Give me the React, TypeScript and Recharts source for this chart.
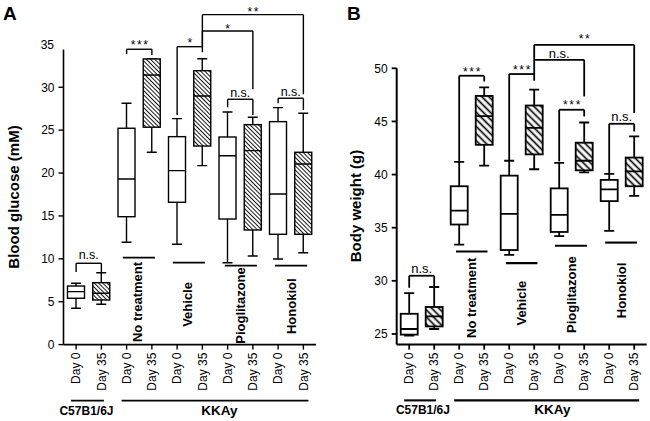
import React from 'react';
import { ComposedChart, Bar, XAxis, YAxis, ReferenceLine, ReferenceDot } from 'recharts';

const FONT = 'Arial, "Liberation Sans", Helvetica, sans-serif';

// ---------- categories / labels ----------
const tickLabels = ['Day 0', 'Day 35', 'Day 0', 'Day 35', 'Day 0', 'Day 35', 'Day 0', 'Day 35', 'Day 0', 'Day 35'];
const groupLabels = ['No treatment', 'Vehicle', 'Pioglitazone', 'Honokiol'];
const strainLabels = ['C57B1/6J', 'KKAy'];

// ---------- Panel A: blood glucose (mM) ----------
const glucoseMin = [4.23, 4.7, 11.93, 22.42, 11.69, 20.86, 9.55, 10.33, 9.98, 10.71];
const glucoseQ1 = [5.4, 5.2, 14.91, 25.34, 16.59, 23.15, 14.64, 13.36, 12.86, 12.86];
const glucoseMedian = [6.17, 5.98, 19.31, 31.43, 20.28, 28.98, 22.02, 22.61, 17.56, 21.06];
const glucoseQ3 = [6.83, 7.22, 25.22, 33.3, 24.24, 31.93, 24.2, 25.64, 25.99, 22.42];
const glucoseMax = [7.15, 8.38, 28.13, 33.3, 26.34, 33.33, 27.12, 26.5, 27.62, 26.97];
const glucoseTicks = [0, 5, 10, 15, 20, 25, 30];

// ---------- Panel B: body weight (g) ----------
const weightMin = [24.84, 25.47, 33.4, 40.85, 32.45, 40.5, 34.2, 40.2, 34.7, 38.0];
const weightQ1 = [24.94, 25.71, 35.3, 42.8, 32.9, 41.9, 34.6, 40.4, 37.5, 38.9];
const weightMedian = [25.47, 26.65, 36.6, 45.5, 36.3, 44.4, 36.2, 41.3, 38.6, 40.3];
const weightQ3 = [26.9, 27.54, 38.9, 47.4, 39.9, 46.5, 38.7, 43.0, 39.5, 41.6];
const weightMax = [28.85, 29.42, 41.2, 48.2, 41.3, 48.0, 41.1, 44.9, 40.07, 43.6];
const weightTicks = [25, 30, 35, 40, 45, 50];

// ---------- significance annotations (data units) ----------
type Bracket = { x1: number; x2: number; top: number; left: number; right: number };
type Note = { x: number; y: number; text: string };
type Seg = { x1: number; x2: number; y: number };
type Place = { x: number; y: number };

const glucoseBrackets: Bracket[] = [
  { x1: 0, x2: 1, top: 9.48, left: 8.45, right: 8.45 },
  { x1: 2, x2: 3, top: 34.43, left: 33.88, right: 33.77 },
  { x1: 4, x2: 5, top: 34.73, left: 26.77, right: 34.08 },
  { x1: 5, x2: 7, top: 36.56, left: 34.73, right: 29.77 },
  { x1: 5, x2: 9, top: 38.46, left: 34.73, right: 29.18 },
  { x1: 6, x2: 7, top: 28.6, left: 27.67, right: 26.77 },
  { x1: 8, x2: 9, top: 28.72, left: 28.13, right: 27.35 },
];
const glucoseNotes: Note[] = [
  { x: 0.5, y: 9.98, text: 'n.s.' },
  { x: 2.5, y: 34.45, text: '***' },
  { x: 4.5, y: 34.73, text: '*' },
  { x: 6, y: 36.33, text: '*' },
  { x: 7, y: 38.31, text: '**' },
  { x: 6.5, y: 28.81, text: 'n.s.' },
  { x: 8.5, y: 28.93, text: 'n.s.' },
];
const glucoseGroupLines: Seg[] = [
  { x1: 1.85, x2: 3.12, y: 10.13 },
  { x1: 3.83, x2: 5.1, y: 9.55 },
  { x1: 5.89, x2: 7.16, y: 9.2 },
  { x1: 7.88, x2: 9.15, y: 9.2 },
];
const glucoseGroupPos: Place[] = [
  { x: 2.44, y: 4.97 },
  { x: 4.42, y: 4.68 },
  { x: 6.49, y: 4.56 },
  { x: 8.51, y: 4.47 },
];
const glucoseStrainLines: Seg[] = [
  { x1: -0.2, x2: 1.1, y: -6.54 },
  { x1: 1.8, x2: 9.2, y: -6.54 },
];
const glucoseStrainPos: Place[] = [
  { x: 0.41, y: -8.15 },
  { x: 5.67, y: -8.15 },
];

const weightBrackets: Bracket[] = [
  { x1: 0, x2: 1, top: 30.48, left: 29.35, right: 29.42 },
  { x1: 2, x2: 3, top: 49.3, left: 41.24, right: 48.76 },
  { x1: 4, x2: 5, top: 49.46, left: 41.33, right: 48.83 },
  { x1: 5, x2: 7, top: 50.8, left: 49.46, right: 47.35 },
  { x1: 5, x2: 9, top: 52.21, left: 50.8, right: 45.79 },
  { x1: 6, x2: 7, top: 46.1, left: 41.24, right: 45.47 },
  { x1: 8, x2: 9, top: 44.78, left: 40.15, right: 44.06 },
];
const weightNotes: Note[] = [
  { x: 0.5, y: 30.74, text: 'n.s.' },
  { x: 2.5, y: 49.25, text: '***' },
  { x: 4.5, y: 49.45, text: '***' },
  { x: 6, y: 50.99, text: 'n.s.' },
  { x: 7, y: 52.35, text: '**' },
  { x: 6.5, y: 46.15, text: '***' },
  { x: 8.5, y: 45.02, text: 'n.s.' },
];
const weightGroupLines: Seg[] = [
  { x1: 1.87, x2: 3.13, y: 32.76 },
  { x1: 3.87, x2: 5.13, y: 31.67 },
  { x1: 5.83, x2: 7.11, y: 33.3 },
  { x1: 7.84, x2: 9.11, y: 33.6 },
];
const weightGroupPos: Place[] = [
  { x: 2.47, y: 28.4 },
  { x: 4.47, y: 27.9 },
  { x: 6.47, y: 28.7 },
  { x: 8.47, y: 29.1 },
];
const weightStrainLines: Seg[] = [
  { x1: -0.2, x2: 1.07, y: 18.75 },
  { x1: 1.8, x2: 9.2, y: 18.75 },
];
const weightStrainPos: Place[] = [
  { x: 0.55, y: 17.46 },
  { x: 5.73, y: 17.46 },
];

function buildRows(mn: number[], q1: number[], md: number[], q3: number[], mx: number[]) {
  return tickLabels.map((label, i) => ({
    idx: i,
    label,
    min: mn[i],
    q1: q1[i],
    median: md[i],
    q3: q3[i],
    max: mx[i],
    range: [mn[i], mx[i]],
    hatched: i % 2 === 1,
  }));
}

const glucoseRows = buildRows(glucoseMin, glucoseQ1, glucoseMedian, glucoseQ3, glucoseMax);
const weightRows = buildRows(weightMin, weightQ1, weightMedian, weightQ3, weightMax);

function makeBoxShape(pid: string, lw: number, gap: number, hw: number) {
  return (props: any) => {
    const { x, y, width, height, payload } = props;
    if (!payload || !Number.isFinite(y) || !Number.isFinite(height)) return <g />;
    const { min, max, q1, q3, median, hatched } = payload;
    const top = Math.min(y, y + height);
    const bot = Math.max(y, y + height);
    const py = (v: number) => (max === min ? top : top + ((bot - top) * (max - v)) / (max - min));
    const cx = x + width / 2;
    const cap = 5;
    const s = { stroke: '#000', strokeWidth: lw };
    return (
      <g>
        {hatched && (
          <defs>
            <pattern id={pid} patternUnits="userSpaceOnUse" width={gap} height={gap} patternTransform="rotate(-45)">
              <rect x={0} y={0} width={gap} height={gap} fill="#fff" />
              <line x1={gap / 2} y1={0} x2={gap / 2} y2={gap} stroke="#000" strokeWidth={hw} />
            </pattern>
          </defs>
        )}
        <line x1={cx} x2={cx} y1={py(max)} y2={py(q3)} {...s} />
        <line x1={cx - cap} x2={cx + cap} y1={py(max)} y2={py(max)} {...s} />
        <line x1={cx} x2={cx} y1={py(q1)} y2={py(min)} {...s} />
        <line x1={cx - cap} x2={cx + cap} y1={py(min)} y2={py(min)} {...s} />
        <rect
          x={x}
          y={py(q3)}
          width={width}
          height={Math.max(py(q1) - py(q3), 0.5)}
          fill={hatched ? `url(#${pid})` : '#fff'}
          {...s}
        />
        <line x1={x} x2={x + width} y1={py(median)} y2={py(median)} {...s} />
      </g>
    );
  };
}

const XTick = (props: any) => {
  const { x, y, payload } = props;
  const label = tickLabels[payload.value];
  const ax = x + 4.3;
  const ay = y + 1;
  return (
    <text x={ax} y={ay} transform={`rotate(-90 ${ax} ${ay})`} textAnchor="end" fontSize={12} fontFamily={FONT} fill="#000">
      {label}
    </text>
  );
};

type PanelProps = {
  id: string;
  rows: any[];
  domain: [number, number];
  ticks: number[];
  margin: { top: number; right: number; bottom: number; left: number };
  lw: number;
  gap: number;
  hw: number;
  brackets: Bracket[];
  notes: Note[];
  groupLines: Seg[];
  groupPos: Place[];
  strainLines: Seg[];
  strainPos: Place[];
  nsSize: number;
  extraTick?: number;
};

function Panel(p: PanelProps) {
  const lineStyle = { stroke: '#000', strokeWidth: p.lw };
  const els: React.ReactNode[] = [];
  p.brackets.forEach((b, i) => {
    els.push(
      <ReferenceLine key={`bh${i}`} segment={[{ x: b.x1, y: b.top }, { x: b.x2, y: b.top }]} ifOverflow="visible" {...lineStyle} />,
      <ReferenceLine key={`bl${i}`} segment={[{ x: b.x1, y: b.top }, { x: b.x1, y: b.left }]} ifOverflow="visible" {...lineStyle} />,
      <ReferenceLine key={`br${i}`} segment={[{ x: b.x2, y: b.top }, { x: b.x2, y: b.right }]} ifOverflow="visible" {...lineStyle} />
    );
  });
  p.notes.forEach((n, i) => {
    const isStar = n.text.startsWith('*');
    els.push(
      <ReferenceDot
        key={`n${i}`}
        x={n.x}
        y={n.y}
        r={0}
        ifOverflow="visible"
        shape={(sp: any) => (
          <text
            x={sp.cx + (isStar ? 0.8 : 0)}
            y={sp.cy}
            textAnchor="middle"
            fontSize={isStar ? 12 : p.nsSize}
            letterSpacing={isStar ? 1.6 : 0}
            fontFamily={FONT}
            fill="#000"
          >
            {n.text}
          </text>
        )}
      />
    );
  });
  p.groupLines.forEach((g, i) => {
    els.push(
      <ReferenceLine key={`g${i}`} segment={[{ x: g.x1, y: g.y }, { x: g.x2, y: g.y }]} ifOverflow="visible" stroke="#000" strokeWidth={p.lw + 0.3} />
    );
  });
  p.groupPos.forEach((g, i) => {
    els.push(
      <ReferenceDot
        key={`gp${i}`}
        x={g.x}
        y={g.y}
        r={0}
        ifOverflow="visible"
        shape={(sp: any) => {
          const ax = sp.cx + 4.6;
          const ay = sp.cy;
          return (
            <text x={ax} y={ay} transform={`rotate(-90 ${ax} ${ay})`} textAnchor="middle" fontSize={13} fontWeight="bold" fontFamily={FONT} fill="#000">
              {groupLabels[i]}
            </text>
          );
        }}
      />
    );
  });
  p.strainLines.forEach((g, i) => {
    els.push(
      <ReferenceLine key={`s${i}`} segment={[{ x: g.x1, y: g.y }, { x: g.x2, y: g.y }]} ifOverflow="visible" stroke="#000" strokeWidth={p.lw + 0.3} />
    );
  });
  p.strainPos.forEach((g, i) => {
    els.push(
      <ReferenceDot
        key={`sp${i}`}
        x={g.x}
        y={g.y}
        r={0}
        ifOverflow="visible"
        shape={(sp: any) => (
          <text x={sp.cx} y={sp.cy} textAnchor="middle" fontSize={i === 0 ? 12 : 13.5} fontWeight="bold" fontFamily={FONT} fill="#000">
            {strainLabels[i]}
          </text>
        )}
      />
    );
  });
  if (p.extraTick !== undefined) {
    els.push(
      <ReferenceDot
        key="extra"
        x={-0.5}
        y={p.extraTick}
        r={0}
        ifOverflow="visible"
        shape={(sp: any) => (
          <text x={sp.cx - 9.5} y={sp.cy} dy="0.355em" textAnchor="end" fontSize={12} fontFamily={FONT} fill="#000">
            {String(p.extraTick)}
          </text>
        )}
      />
    );
  }

  return (
    <ComposedChart width={325} height={421} data={p.rows} margin={p.margin}>
      <XAxis
        dataKey="idx"
        type="number"
        domain={[-0.5, 9.5]}
        ticks={[0, 1, 2, 3, 4, 5, 6, 7, 8, 9]}
        interval={0}
        height={60}
        tick={<XTick />}
        tickSize={5}
        tickMargin={2}
        axisLine={{ stroke: '#000', strokeWidth: p.lw + 0.2 }}
        tickLine={{ stroke: '#000', strokeWidth: p.lw }}
        allowDecimals
      />
      <YAxis
        type="number"
        domain={p.domain}
        ticks={p.ticks}
        interval={0}
        width={40}
        tickSize={5}
        tickMargin={4}
        tick={{ fill: '#000', fontSize: 12, fontFamily: FONT }}
        axisLine={{ stroke: '#000', strokeWidth: p.lw + 0.2 }}
        tickLine={{ stroke: '#000', strokeWidth: p.lw }}
        allowDataOverflow
      />
      <Bar dataKey="range" barSize={17} isAnimationActive={false} shape={makeBoxShape(`hatch-${p.id}`, p.lw, p.gap, p.hw)} />
      {els}
    </ComposedChart>
  );
}

export default function App() {
  return (
    <div style={{ position: 'absolute', left: 0, top: 0, width: 650, height: 421, background: '#fff', overflow: 'hidden' }}>
      <div style={{ position: 'absolute', left: 0, top: 0 }}>
        <Panel
          id="a"
          rows={glucoseRows}
          domain={[0, 34.4]}
          ticks={glucoseTicks}
          margin={{ top: 49.5, right: 9, bottom: 16.4, left: 23.5 }}
          lw={1.4}
          gap={3}
          hw={0.9}
          brackets={glucoseBrackets}
          notes={glucoseNotes}
          groupLines={glucoseGroupLines}
          groupPos={glucoseGroupPos}
          strainLines={glucoseStrainLines}
          strainPos={glucoseStrainPos}
          nsSize={12.5}
          extraTick={35}
        />
      </div>
      <div style={{ position: 'absolute', left: 325, top: 0 }}>
        <Panel
          id="b"
          rows={weightRows}
          domain={[24, 50]}
          ticks={weightTicks}
          margin={{ top: 68.3, right: 3.3, bottom: 16.4, left: 31.7 }}
          lw={1.8}
          gap={5}
          hw={1.7}
          brackets={weightBrackets}
          notes={weightNotes}
          groupLines={weightGroupLines}
          groupPos={weightGroupPos}
          strainLines={weightStrainLines}
          strainPos={weightStrainPos}
          nsSize={13}
        />
      </div>
      <svg width={650} height={421} style={{ position: 'absolute', left: 0, top: 0, pointerEvents: 'none' }}>
        <text x={3} y={20} fontSize={19} fontWeight="bold" fontFamily={FONT} fill="#000">A</text>
        <text x={347} y={20} fontSize={19} fontWeight="bold" fontFamily={FONT} fill="#000">B</text>
        <text x={19} y={197} transform="rotate(-90 19 197)" textAnchor="middle" fontSize={15} fontWeight="bold" fontFamily={FONT} fill="#000">
          Blood glucose (mM)
        </text>
        <text x={361} y={206} transform="rotate(-90 361 206)" textAnchor="middle" fontSize={15} fontWeight="bold" fontFamily={FONT} fill="#000">
          Body weight (g)
        </text>
      </svg>
    </div>
  );
}
